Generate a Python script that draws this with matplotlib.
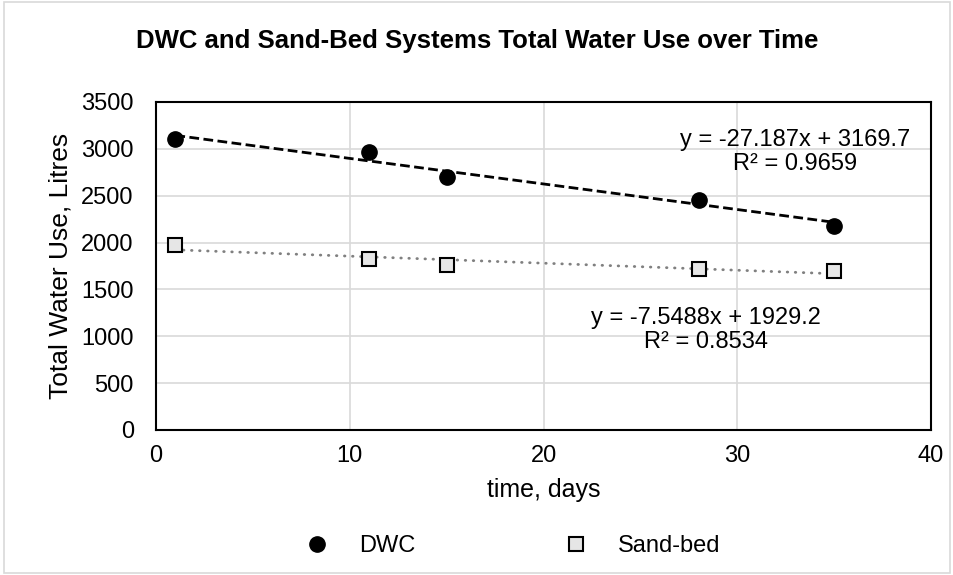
"""Total water use over time for DWC and sand-bed systems, with linear trendlines."""

import matplotlib

matplotlib.use("Agg")
import matplotlib.pyplot as plt  # noqa: E402
import numpy as np  # noqa: E402
from matplotlib.patches import Rectangle  # noqa: E402

# Values.
days = [1, 11, 15, 28, 35]
dwc_use = [3102, 2970, 2697, 2454, 2177]
sand_use = [1971, 1825, 1764, 1715, 1700]

dwc_equation = "y = -27.187x + 3169.7\nR² = 0.9659"
sand_equation = "y = -7.5488x + 1929.2\nR² = 0.8534"

plt.rcParams["font.family"] = ["Liberation Sans", "DejaVu Sans"]

fig = plt.figure(figsize=(9.54, 5.75), dpi=100)
ax = fig.add_axes([156 / 954, 1 - 430 / 575, 775 / 954, 328 / 575])

# Outer chart border, as in the spreadsheet export.
fig.patches.append(
    Rectangle((0.004, 0.004), 0.992, 0.992, transform=fig.transFigure,
              fill=False, edgecolor="#d9d9d9", linewidth=1.2)
)

# Linear trendlines fitted to each series (Excel-style: dashed black, round gray dots).
x = np.asarray(days, dtype=float)
trend_styles = (
    (dwc_use, (0, (3.5, 1.6)), "black", "butt"),
    (sand_use, (0, (0.2, 2.7)), "#808080", "round"),
)
for values, style, colour, cap in trend_styles:
    slope, intercept = np.polyfit(x, np.asarray(values, dtype=float), 1)
    ax.plot(x, slope * x + intercept, linestyle=style, color=colour, linewidth=2,
            dash_capstyle=cap, zorder=2)

ax.plot(days, dwc_use, "o", color="black", markersize=11, label="DWC", zorder=3)
ax.plot(days, sand_use, "s", markerfacecolor="#e6e6e6", markeredgecolor="black",
        markeredgewidth=1.5, markersize=10, label="Sand-bed", zorder=3)

ax.text(33.0, 2967, dwc_equation, ha="center", va="center", fontsize=17, linespacing=1.15)
ax.text(28.4, 1067, sand_equation, ha="center", va="center", fontsize=17, linespacing=1.15)

ax.set_xlim(0, 40)
ax.set_ylim(0, 3500)
ax.set_xticks(range(0, 41, 10))
ax.set_yticks(range(0, 3501, 500))
ax.tick_params(length=0, labelsize=17)
ax.tick_params(axis="y", pad=16)
ax.tick_params(axis="x", pad=11)
ax.grid(color="#d9d9d9", linewidth=1.2)
ax.set_axisbelow(True)
for spine in ax.spines.values():
    spine.set_linewidth(1.5)
    spine.set_color("black")

ax.set_xlabel("time, days", fontsize=18, labelpad=8)
ax.set_ylabel("Total Water Use, Litres", fontsize=19, labelpad=6)
fig.text(0.5, 1 - 41 / 575, "DWC and Sand-Bed Systems Total Water Use over Time",
         ha="center", va="center", fontsize=18.5, fontweight="bold")

fig.legend(loc="center", bbox_to_anchor=(507 / 954, 1 - 546 / 575), ncol=2, frameon=False,
           fontsize=17, columnspacing=5.8, handlelength=2, handletextpad=0.78, borderpad=0)

fig.savefig("out.png", dpi=100)
